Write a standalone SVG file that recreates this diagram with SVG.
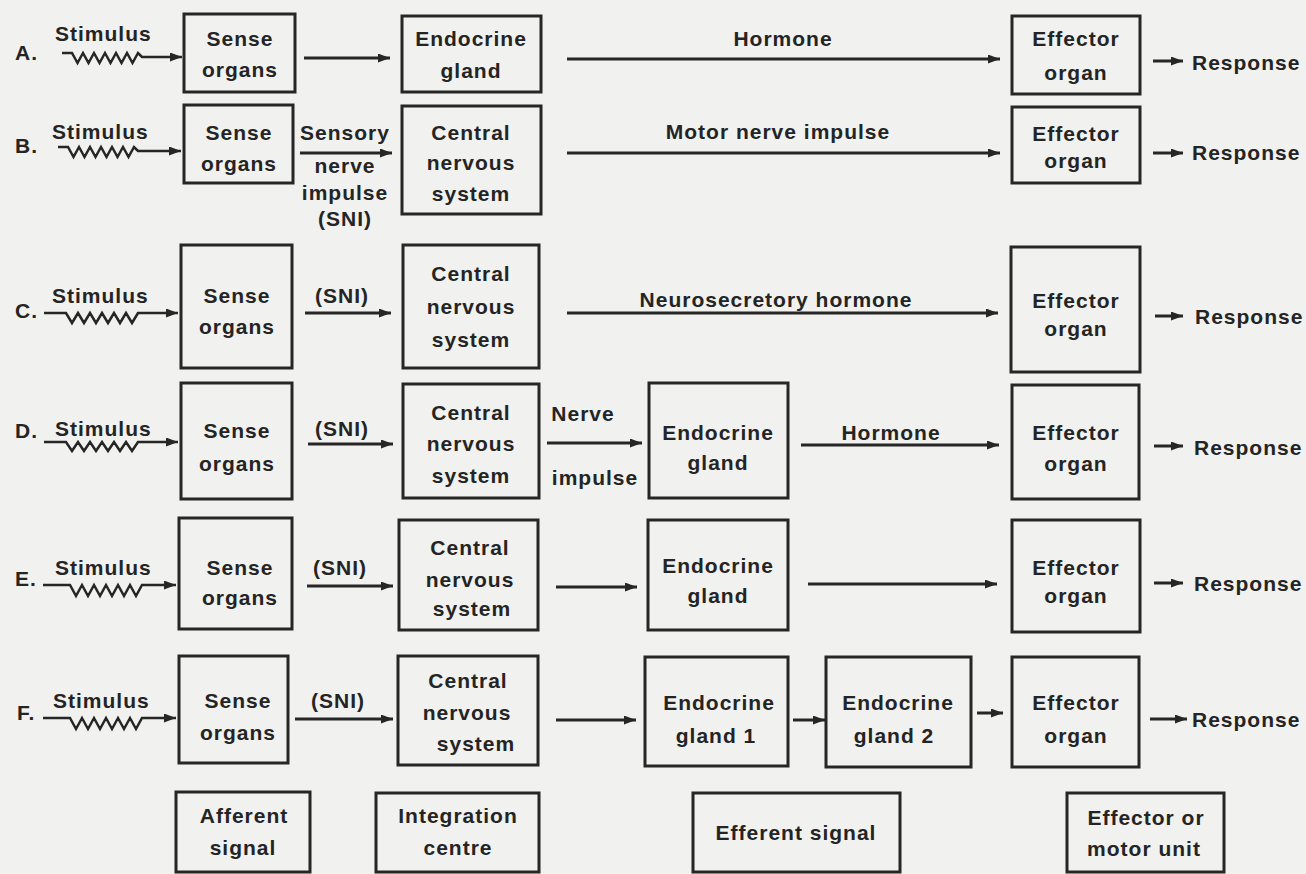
<svg xmlns="http://www.w3.org/2000/svg" width="1306" height="874" viewBox="0 0 1306 874">
<defs>
<marker id="ah" markerUnits="userSpaceOnUse" markerWidth="13" markerHeight="10" refX="12" refY="4.5" orient="auto">
<path d="M0,0 L12,4.5 L0,9 z" fill="#262626"/>
</marker>
<style>
.box{fill:none;stroke:#262626;stroke-width:3;}
.t{font-family:"Liberation Sans",Arial,sans-serif;font-weight:bold;font-size:21px;fill:#242424;letter-spacing:1px;text-anchor:middle;dominant-baseline:central;}
.s{text-anchor:start;}
.c{fill:none;stroke:#262626;stroke-width:3;marker-end:url(#ah);}
.w{fill:none;stroke:#262626;stroke-width:2.5;stroke-linejoin:miter;marker-end:url(#ah);}
</style>
</defs>
<rect x="0" y="0" width="1306" height="874" fill="#f1f1ef"/>

<g id="row-labels">
<text class="t s" x="15" y="52">A.</text>
<text class="t s" x="15" y="145">B.</text>
<text class="t s" x="15" y="310">C.</text>
<text class="t s" x="15" y="430">D.</text>
<text class="t s" x="15" y="578">E.</text>
<text class="t s" x="17" y="712">F.</text>
</g>

<g id="connectors">
<!-- stimulus waves -->
<path class="w" d="M62,53 H72 l5.5,10 l5.5,-10 l5.5,10 l5.5,-10 l5.5,10 l5.5,-10 l5.5,10 l5.5,-10 l5.5,10 l5.5,-10 l5.5,10 l5.5,-10 L142,57 H182"/>
<path class="w" d="M58,147 H68 l5.5,10 l5.5,-10 l5.5,10 l5.5,-10 l5.5,10 l5.5,-10 l5.5,10 l5.5,-10 l5.5,10 l5.5,-10 l5.5,10 l5.5,-10 L138,151 H181"/>
<path class="w" d="M44,313 H66 l6,10 l6,-10 l6,10 l6,-10 l6,10 l6,-10 l6,10 l6,-10 l6,10 l6,-10 l6,10 l6,-10 H178"/>
<path class="w" d="M44,442 H66 l6,9 l6,-9 l6,9 l6,-9 l6,9 l6,-9 l6,9 l6,-9 l6,9 l6,-9 l6,9 l6,-9 H178"/>
<path class="w" d="M43,585 H70 l6,11 l6,-11 l6,11 l6,-11 l6,11 l6,-11 l6,11 l6,-11 l6,11 l6,-11 l6,11 l6,-11 H176"/>
<path class="w" d="M43,718 H70 l6,11 l6,-11 l6,11 l6,-11 l6,11 l6,-11 l6,11 l6,-11 l6,11 l6,-11 l6,11 l6,-11 H176"/>
<text class="t s" x="55" y="33">Stimulus</text>
<text class="t s" x="52" y="131">Stimulus</text>
<text class="t s" x="52" y="295">Stimulus</text>
<text class="t s" x="55" y="428">Stimulus</text>
<text class="t s" x="55" y="567">Stimulus</text>
<text class="t s" x="53" y="700">Stimulus</text>

<!-- sense organs -> next -->
<line class="c" x1="304" y1="58" x2="390" y2="58"/>
<line class="c" x1="300" y1="153" x2="392" y2="153"/>
<line class="c" x1="305" y1="313" x2="391" y2="313"/>
<line class="c" x1="308" y1="444" x2="393" y2="444"/>
<line class="c" x1="307" y1="586" x2="393" y2="586"/>
<line class="c" x1="295" y1="719" x2="393" y2="719"/>
<text class="t" x="345" y="132">Sensory</text>
<text class="t" x="345" y="165">nerve</text>
<text class="t" x="345" y="192">impulse</text>
<text class="t" x="345" y="218">(SNI)</text>
<text class="t" x="342" y="295">(SNI)</text>
<text class="t" x="342" y="428">(SNI)</text>
<text class="t" x="340" y="567">(SNI)</text>
<text class="t" x="338" y="700">(SNI)</text>

<!-- long arrows to effector -->
<line class="c" x1="567" y1="59" x2="1000" y2="59"/>
<text class="t" x="783" y="38">Hormone</text>
<line class="c" x1="567" y1="153" x2="1000" y2="153"/>
<text class="t" x="778" y="131">Motor nerve impulse</text>
<line class="c" x1="567" y1="313" x2="998" y2="313"/>
<text class="t" x="776" y="299">Neurosecretory hormone</text>

<!-- row D -->
<line class="c" x1="547" y1="443" x2="642" y2="443"/>
<text class="t" x="583" y="413">Nerve</text>
<text class="t" x="595" y="477">impulse</text>
<line class="c" x1="801" y1="445" x2="999" y2="445"/>
<text class="t" x="891" y="432">Hormone</text>

<!-- row E -->
<line class="c" x1="556" y1="587" x2="637" y2="587"/>
<line class="c" x1="808" y1="584" x2="997" y2="584"/>

<!-- row F -->
<line class="c" x1="556" y1="720" x2="636" y2="720"/>
<line class="c" x1="793" y1="720" x2="825" y2="720"/>
<line class="c" x1="977" y1="713" x2="1003" y2="713"/>

<!-- responses -->
<line class="c" x1="1153" y1="61" x2="1183" y2="61"/>
<line class="c" x1="1153" y1="153" x2="1183" y2="153"/>
<line class="c" x1="1155" y1="316" x2="1183" y2="316"/>
<line class="c" x1="1154" y1="446" x2="1183" y2="446"/>
<line class="c" x1="1154" y1="583" x2="1183" y2="583"/>
<line class="c" x1="1150" y1="719" x2="1187" y2="719"/>
<text class="t s" x="1192" y="62">Response</text>
<text class="t s" x="1192" y="152">Response</text>
<text class="t s" x="1195" y="316">Response</text>
<text class="t s" x="1194" y="447">Response</text>
<text class="t s" x="1194" y="583">Response</text>
<text class="t s" x="1192" y="719">Response</text>
</g>

<!-- Row A -->
<g id="A-sense"><rect class="box" x="184" y="14" width="111" height="78"/><text class="t" x="240" y="38">Sense</text><text class="t" x="240" y="69">organs</text></g>
<g id="A-endocrine"><rect class="box" x="402" y="16" width="139" height="76"/><text class="t" x="471" y="38">Endocrine</text><text class="t" x="471" y="70">gland</text></g>
<g id="A-effector"><rect class="box" x="1012" y="16" width="128" height="78"/><text class="t" x="1076" y="38">Effector</text><text class="t" x="1076" y="72">organ</text></g>

<!-- Row B -->
<g id="B-sense"><rect class="box" x="184" y="105" width="109" height="78"/><text class="t" x="239" y="132">Sense</text><text class="t" x="239" y="163">organs</text></g>
<g id="B-cns"><rect class="box" x="402" y="106" width="139" height="108"/><text class="t" x="471" y="132">Central</text><text class="t" x="471" y="162">nervous</text><text class="t" x="471" y="193">system</text></g>
<g id="B-effector"><rect class="box" x="1012" y="107" width="128" height="76"/><text class="t" x="1076" y="133">Effector</text><text class="t" x="1076" y="160">organ</text></g>

<!-- Row C -->
<g id="C-sense"><rect class="box" x="181" y="245" width="111" height="123"/><text class="t" x="237" y="295">Sense</text><text class="t" x="237" y="326">organs</text></g>
<g id="C-cns"><rect class="box" x="403" y="245" width="136" height="123"/><text class="t" x="471" y="273">Central</text><text class="t" x="471" y="306">nervous</text><text class="t" x="471" y="339">system</text></g>
<g id="C-effector"><rect class="box" x="1011" y="247" width="129" height="125"/><text class="t" x="1076" y="300">Effector</text><text class="t" x="1076" y="328">organ</text></g>

<!-- Row D -->
<g id="D-sense"><rect class="box" x="181" y="383" width="111" height="116"/><text class="t" x="237" y="430">Sense</text><text class="t" x="237" y="463">organs</text></g>
<g id="D-cns"><rect class="box" x="403" y="384" width="136" height="114"/><text class="t" x="471" y="412">Central</text><text class="t" x="471" y="443">nervous</text><text class="t" x="471" y="475">system</text></g>
<g id="D-endocrine"><rect class="box" x="649" y="383" width="139" height="115"/><text class="t" x="718" y="432">Endocrine</text><text class="t" x="718" y="462">gland</text></g>
<g id="D-effector"><rect class="box" x="1012" y="385" width="127" height="114"/><text class="t" x="1076" y="432">Effector</text><text class="t" x="1076" y="463">organ</text></g>

<!-- Row E -->
<g id="E-sense"><rect class="box" x="179" y="518" width="113" height="111"/><text class="t" x="240" y="567">Sense</text><text class="t" x="240" y="597">organs</text></g>
<g id="E-cns"><rect class="box" x="399" y="520" width="139" height="110"/><text class="t" x="470" y="547">Central</text><text class="t" x="470" y="579">nervous</text><text class="t" x="472" y="608">system</text></g>
<g id="E-endocrine"><rect class="box" x="648" y="520" width="140" height="110"/><text class="t" x="718" y="565">Endocrine</text><text class="t" x="718" y="595">gland</text></g>
<g id="E-effector"><rect class="box" x="1012" y="520" width="128" height="112"/><text class="t" x="1076" y="567">Effector</text><text class="t" x="1076" y="595">organ</text></g>

<!-- Row F -->
<g id="F-sense"><rect class="box" x="179" y="656" width="109" height="107"/><text class="t" x="238" y="700">Sense</text><text class="t" x="238" y="732">organs</text></g>
<g id="F-cns"><rect class="box" x="398" y="656" width="140" height="109"/><text class="t" x="468" y="680">Central</text><text class="t" x="467" y="712">nervous</text><text class="t" x="476" y="743">system</text></g>
<g id="F-endocrine1"><rect class="box" x="645" y="657" width="143" height="109"/><text class="t" x="719" y="702">Endocrine</text><text class="t" x="716" y="735">gland 1</text></g>
<g id="F-endocrine2"><rect class="box" x="826" y="657" width="145" height="110"/><text class="t" x="898" y="702">Endocrine</text><text class="t" x="894" y="735">gland 2</text></g>
<g id="F-effector"><rect class="box" x="1012" y="657" width="127" height="110"/><text class="t" x="1076" y="702">Effector</text><text class="t" x="1076" y="735">organ</text></g>

<!-- Bottom legend -->
<g id="afferent"><rect class="box" x="176" y="792" width="134" height="80"/><text class="t" x="244" y="815">Afferent</text><text class="t" x="243" y="847">signal</text></g>
<g id="integration"><rect class="box" x="376" y="793" width="163" height="79"/><text class="t" x="458" y="815">Integration</text><text class="t" x="458" y="847">centre</text></g>
<g id="efferent"><rect class="box" x="693" y="793" width="207" height="79"/><text class="t" x="796" y="832">Efferent signal</text></g>
<g id="effector-motor"><rect class="box" x="1067" y="793" width="157" height="79"/><text class="t" x="1146" y="817">Effector or</text><text class="t" x="1144" y="848">motor unit</text></g>
</svg>
